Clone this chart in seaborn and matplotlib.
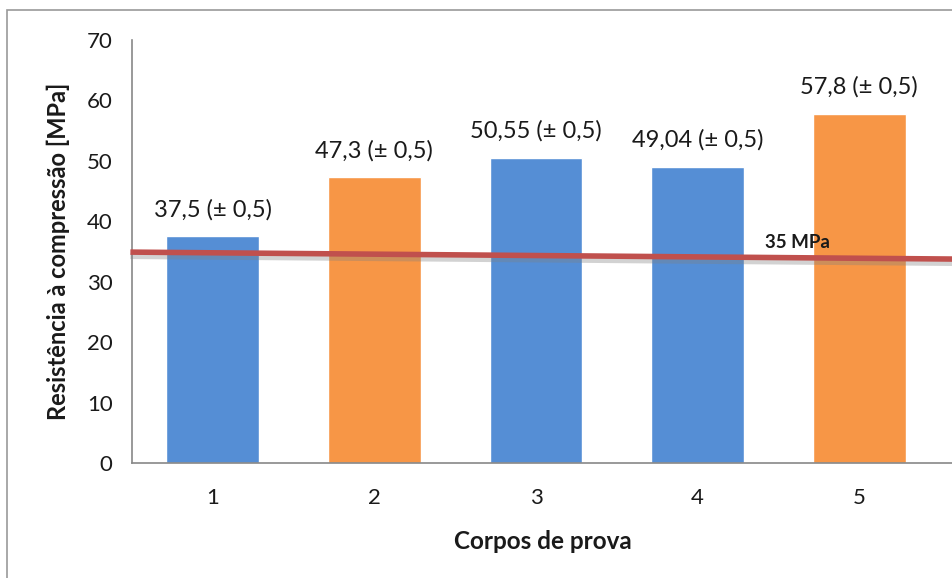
import matplotlib
matplotlib.use("Agg")
import matplotlib.pyplot as plt
import matplotlib.patheffects as pe
from matplotlib.patches import Rectangle
import seaborn as sns
import pandas as pd

categories = ["1", "2", "3", "4", "5"]
values = [37.5, 47.3, 50.55, 49.04, 57.8]
labels = ["37,5 (± 0,5)", "47,3 (± 0,5)", "50,55 (± 0,5)", "49,04 (± 0,5)", "57,8 (± 0,5)"]
groups = ["a", "b", "a", "a", "b"]
palette = {"a": "#558ED5", "b": "#F79646"}
threshold_ends = [34.9, 33.75]
threshold_label = "35 MPa"
yticks = [0, 10, 20, 30, 40, 50, 60, 70]

sns.set_theme(style="white")
plt.rcParams["font.family"] = ["Lato", "DejaVu Sans"]

df = pd.DataFrame({"cat": categories, "val": values, "grp": groups})

fig = plt.figure(figsize=(9.53, 5.78), dpi=100)
ax = fig.add_axes([132/953, 1 - 463/578, (953 - 132)/953, (463 - 40)/578])

sns.barplot(data=df, x="cat", y="val", hue="grp", palette=palette, dodge=False,
            width=0.575, legend=False, ax=ax, saturation=1)

ax.set_ylim(0, 70)
ax.set_xlim(-0.5, 4.58)
ax.set_yticks(yticks)
ax.set_yticklabels([str(t) for t in yticks], fontsize=16, color="#1a1a1a")
ax.tick_params(axis="x", labelsize=16, pad=18, length=0, labelcolor="#1a1a1a")
ax.tick_params(axis="y", pad=14, length=0)

for s in ["top", "right"]:
    ax.spines[s].set_visible(False)
for s in ["left", "bottom"]:
    ax.spines[s].set_color("#888888")
    ax.spines[s].set_linewidth(1.2)

for i, (v, lab) in enumerate(zip(values, labels)):
    ax.text(i, v + 4.4, lab, ha="center", va="center", fontsize=17, color="#1a1a1a")

xl = ax.get_xlim()
ax.plot([xl[0] - 0.01, xl[1]], threshold_ends, color="#C0504D", lw=4, solid_capstyle="butt",
        clip_on=False, zorder=5,
        path_effects=[pe.SimpleLineShadow(offset=(0, -3), shadow_color="gray", alpha=0.35),
                      pe.Normal()])
ax.text(3.62, 36.5, threshold_label, ha="center", va="center", fontsize=13.5,
        fontweight="bold", color="#1a1a1a", zorder=6)

ax.set_xlabel("Corpos de prova", fontsize=17.5, fontweight="bold", labelpad=16, color="#1a1a1a")
ax.set_ylabel("Resistência à compressão [MPa]", fontsize=17, fontweight="bold", labelpad=12,
              color="#1a1a1a")

# outer chart border
fig.patches.append(Rectangle((7/953, -0.1), 1.2, 1 - 10/578 + 0.1, transform=fig.transFigure,
                             fill=False, edgecolor="#999999", lw=1.2))

fig.savefig("out.png", dpi=100)
